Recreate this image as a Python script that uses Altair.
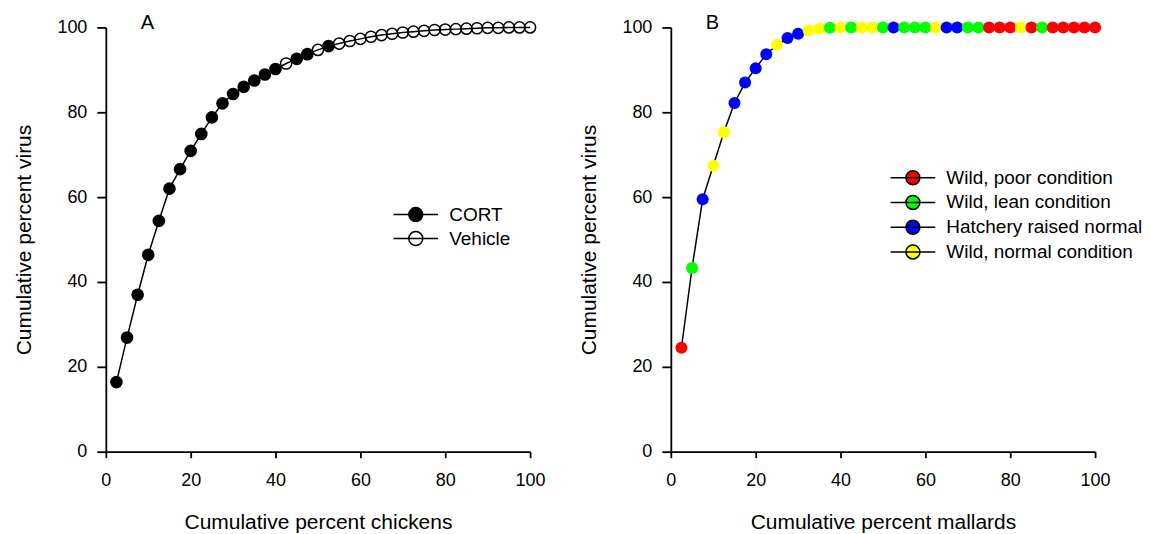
import altair as alt
import pandas as pd

FONT = "Liberation Sans"

x_pct = [2.5, 5, 7.5, 10, 12.5, 15, 17.5, 20, 22.5, 25,
         27.5, 30, 32.5, 35, 37.5, 40, 42.5, 45, 47.5, 50,
         52.5, 55, 57.5, 60, 62.5, 65, 67.5, 70, 72.5, 75,
         77.5, 80, 82.5, 85, 87.5, 90, 92.5, 95, 97.5, 100]

chicken_virus = [16.4, 26.9, 37.0, 46.4, 54.4, 62.0, 66.6, 70.9, 74.9, 78.8,
                 82.1, 84.3, 86.0, 87.5, 88.9, 90.2, 91.5, 92.6, 93.7, 94.7,
                 95.6, 96.2, 96.8, 97.3, 97.8, 98.2, 98.5, 98.8, 99.0, 99.2,
                 99.4, 99.5, 99.6, 99.7, 99.8, 99.9, 99.9, 100, 100, 100]

C, V = "CORT", "Vehicle"
chicken_group = [C, C, C, C, C, C, C, C, C, C,
                 C, C, C, C, C, C, V, C, C, V,
                 C, V, V, V, V, V, V, V, V, V,
                 V, V, V, V, V, V, V, V, V, V]

mallard_virus = [24.5, 43.3, 59.5, 67.4, 75.3, 82.2, 87.0, 90.4, 93.7, 95.9,
                 97.5, 98.5, 99.3, 99.7, 99.9, 100, 100, 100, 100, 100,
                 100, 100, 100, 100, 100, 100, 100, 100, 100, 100,
                 100, 100, 100, 100, 100, 100, 100, 100, 100, 100]

P, L, H, N = ("Wild, poor condition", "Wild, lean condition",
              "Hatchery raised normal", "Wild, normal condition")
mallard_group = [P, L, H, N, N, H, H, H, H, N,
                 H, H, N, N, L, N, L, N, N, L,
                 H, L, L, L, N, H, H, L, L, P,
                 P, P, N, P, L, P, P, P, P, P]

groups_A = [C, V]
fills_A = ["black", "transparent"]
groups_B = [P, L, H, N]
colors_B = ["#ff0000", "#00ff00", "#0000ff", "#ffff00"]
ticks = [0, 20, 40, 60, 80, 100]

SYM = "M-3.2,0H3.2M-1,0A1,1 0 1,0 1,0A1,1 0 1,0 -1,0Z"

dfA = pd.DataFrame({"x": x_pct, "y": chicken_virus, "g": chicken_group})
dfB = pd.DataFrame({"x": x_pct, "y": mallard_virus, "g": mallard_group})


def xax(title):
    return alt.Axis(title=title, values=ticks, tickSize=6, labelPadding=14,
                    titlePadding=22, labelFlush=False)


yax = alt.Axis(title="Cumulative percent virus", values=ticks, tickSize=9,
               labelPadding=10, titlePadding=22, labelFlush=False)


def panel(df, xtitle, letter, pts, legend_scale_enc):
    xs = alt.X("x:Q", scale=alt.Scale(domain=[0, 100], nice=False), axis=xax(xtitle))
    ys = alt.Y("y:Q", scale=alt.Scale(domain=[0, 100], nice=False), axis=yax)
    line = alt.Chart(df).mark_line(color="black", strokeWidth=1.5).encode(
        x=xs, y=ys, order="x:Q")
    points = alt.Chart(df).mark_point(**pts).encode(x=xs, y=ys, fill=legend_scale_enc)
    return alt.layer(line, points).properties(
        width=425, height=425,
        title=alt.TitleParams(letter, anchor="start", frame="group", dx=35,
                              offset=-31, baseline="alphabetic", fontSize=20,
                              fontWeight="normal", font=FONT, color="black"))


def leg(lx, ly, rp):
    return alt.Legend(title=None, orient="none", legendX=lx, legendY=ly,
                      symbolType=SYM, symbolSize=196,
                      symbolStrokeColor="black", symbolStrokeWidth=1.5,
                      labelFontSize=19, labelFont=FONT, labelColor="black",
                      labelOffset=24, labelLimit=400, rowPadding=rp, padding=0)


encA = alt.Fill("g:N", scale=alt.Scale(domain=groups_A, range=fills_A),
                legend=leg(301, 178, 3))
encB = alt.Fill("g:N", scale=alt.Scale(domain=groups_B, range=colors_B),
                sort=groups_B, legend=leg(233, 141, 3.8))

panelA = panel(dfA, "Cumulative percent chickens", "A",
               dict(shape="circle", size=125, filled=True, stroke="black",
                    strokeWidth=1.5, opacity=1), encA)
panelB = panel(dfB, "Cumulative percent mallards", "B",
               dict(shape="circle", size=145, filled=True, strokeWidth=0, opacity=1), encB)

chart = alt.hconcat(panelA, panelB, spacing=141, bounds="flush").resolve_scale(
    fill="independent").properties(
    padding={"left": 5, "top": 5, "right": 0, "bottom": 0}
).configure_view(stroke=None).configure_axis(
    grid=False, domainColor="black", tickColor="black", domainWidth=1.8,
    tickWidth=1.8, labelFont=FONT, titleFont=FONT, labelFontSize=18,
    titleFontSize=21, titleFontWeight="normal", labelColor="black", titleColor="black"
)

chart.save("out.html", embed_options={"renderer": "svg", "actions": False})
